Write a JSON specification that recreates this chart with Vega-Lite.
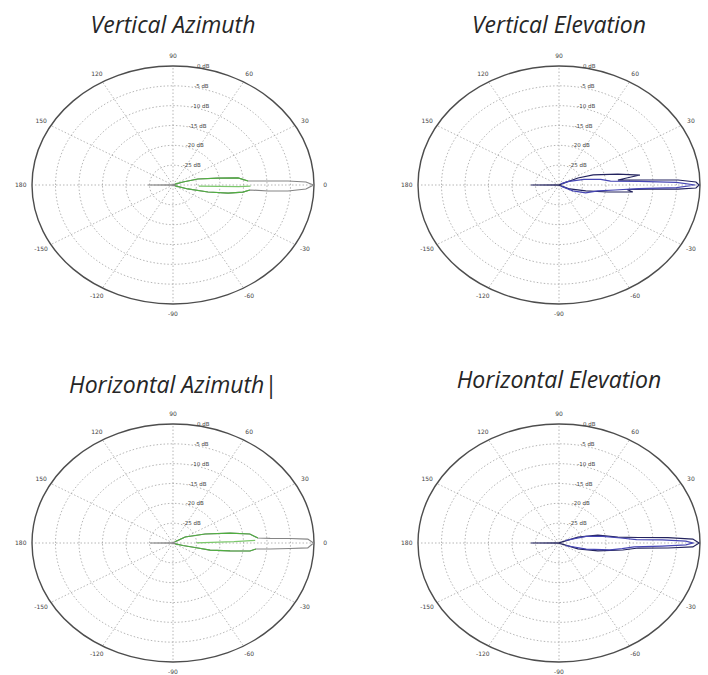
{
  "$schema": "https://vega.github.io/schema/vega-lite/v6.json",
  "background": "white",
  "padding": {"left": 14, "top": 15, "right": 0, "bottom": 0},
  "config": {
    "view": {"stroke": null},
    "title": {"font": "Open Sans", "fontSize": 23, "fontStyle": "italic", "fontWeight": "normal", "color": "#262626", "anchor": "middle", "frame": "group", "baseline": "alphabetic"}
  },
  "datasets": {
    "rings": [{"db": -25}, {"db": -20}, {"db": -15}, {"db": -10}, {"db": -5}, {"db": 0}],
    "spokes": [{"ang": 0}, {"ang": 30}, {"ang": 60}, {"ang": 90}, {"ang": 120}, {"ang": 150}, {"ang": 180}, {"ang": 210}, {"ang": 240}, {"ang": 270}, {"ang": 300}, {"ang": 330}],
    "alabels": [
      {"ang": 0, "lab": "0"}, {"ang": 30, "lab": "30"}, {"ang": 60, "lab": "60"}, {"ang": 90, "lab": "90"},
      {"ang": 120, "lab": "120"}, {"ang": 150, "lab": "150"}, {"ang": 180, "lab": "180"}, {"ang": -150, "lab": "-150"},
      {"ang": -120, "lab": "-120"}, {"ang": -90, "lab": "-90"}, {"ang": -60, "lab": "-60"}, {"ang": -30, "lab": "-30"}
    ],
    "dblabels": [
      {"db": 0, "lab": "0 dB"}, {"db": -5, "lab": "-5 dB"}, {"db": -10, "lab": "-10 dB"},
      {"db": -15, "lab": "-15 dB"}, {"db": -20, "lab": "-20 dB"}, {"db": -25, "lab": "-25 dB"}
    ],
    "pattern": [
      {"p": "VA", "s": "VA main", "ang": -180, "db": -24.7}, {"p": "VA", "s": "VA main", "ang": -178, "db": -29.5},
      {"p": "VA", "s": "VA main", "ang": -90, "db": -30}, {"p": "VA", "s": "VA main", "ang": -30, "db": -29.8},
      {"p": "VA", "s": "VA main", "ang": -17.6, "db": -26.7}, {"p": "VA", "s": "VA main", "ang": -13.3, "db": -22.35},
      {"p": "VA", "s": "VA main", "ang": -9.8, "db": -18.1}, {"p": "VA", "s": "VA main", "ang": -6.8, "db": -15},
      {"p": "VA", "s": "VA main", "ang": -4.4, "db": -13.6}, {"p": "VA", "s": "VA main", "ang": -4.28, "db": -9.7},
      {"p": "VA", "s": "VA main", "ang": -3.53, "db": -5.5}, {"p": "VA", "s": "VA main", "ang": -2.04, "db": -1.7},
      {"p": "VA", "s": "VA main", "ang": 0, "db": -0.1}, {"p": "VA", "s": "VA main", "ang": 1.53, "db": -1.7},
      {"p": "VA", "s": "VA main", "ang": 2.36, "db": -5.5}, {"p": "VA", "s": "VA main", "ang": 2.85, "db": -9.75},
      {"p": "VA", "s": "VA main", "ang": 3.6, "db": -14}, {"p": "VA", "s": "VA main", "ang": 7.3, "db": -16.05},
      {"p": "VA", "s": "VA main", "ang": 10.4, "db": -20.3}, {"p": "VA", "s": "VA main", "ang": 15.9, "db": -24.5},
      {"p": "VA", "s": "VA main", "ang": 19.6, "db": -27.75}, {"p": "VA", "s": "VA main", "ang": 30, "db": -29.8},
      {"p": "VA", "s": "VA main", "ang": 90, "db": -30}, {"p": "VA", "s": "VA main", "ang": 178, "db": -29.5},
      {"p": "VA", "s": "VA main", "ang": 180, "db": -24.7},
      {"p": "VA", "s": "VA up", "ang": 3.6, "db": -14}, {"p": "VA", "s": "VA up", "ang": 7.3, "db": -16.05},
      {"p": "VA", "s": "VA up", "ang": 10.4, "db": -20.3}, {"p": "VA", "s": "VA up", "ang": 15.9, "db": -24.5},
      {"p": "VA", "s": "VA up", "ang": 19.6, "db": -27.75}, {"p": "VA", "s": "VA up", "ang": 26, "db": -29.5},
      {"p": "VA", "s": "VA low", "ang": -26, "db": -29.5}, {"p": "VA", "s": "VA low", "ang": -17.6, "db": -26.7},
      {"p": "VA", "s": "VA low", "ang": -13.3, "db": -22.35}, {"p": "VA", "s": "VA low", "ang": -9.8, "db": -18.1},
      {"p": "VA", "s": "VA low", "ang": -6.8, "db": -15}, {"p": "VA", "s": "VA low", "ang": -4.4, "db": -13.6},
      {"p": "VA", "s": "VA in", "ang": -3, "db": -24.5}, {"p": "VA", "s": "VA in", "ang": -1.6, "db": -16},
      {"p": "VA", "s": "VA in", "ang": -0.9, "db": -13.5},

      {"p": "VE", "s": "VE main", "ang": -180, "db": -24}, {"p": "VE", "s": "VE main", "ang": -178, "db": -29.5},
      {"p": "VE", "s": "VE main", "ang": -90, "db": -30}, {"p": "VE", "s": "VE main", "ang": -30, "db": -29.8},
      {"p": "VE", "s": "VE main", "ang": -23.5, "db": -27.5}, {"p": "VE", "s": "VE main", "ang": -14.7, "db": -24.1},
      {"p": "VE", "s": "VE main", "ang": -9.6, "db": -19.4}, {"p": "VE", "s": "VE main", "ang": -6.4, "db": -14.2},
      {"p": "VE", "s": "VE main", "ang": -4.5, "db": -15.5}, {"p": "VE", "s": "VE main", "ang": -3.1, "db": -11},
      {"p": "VE", "s": "VE main", "ang": -2.3, "db": -4.65}, {"p": "VE", "s": "VE main", "ang": -1.5, "db": -0.85},
      {"p": "VE", "s": "VE main", "ang": 0, "db": -0.2}, {"p": "VE", "s": "VE main", "ang": 1.5, "db": -0.85},
      {"p": "VE", "s": "VE main", "ang": 2.85, "db": -4.65}, {"p": "VE", "s": "VE main", "ang": 3.8, "db": -11},
      {"p": "VE", "s": "VE main", "ang": 5.7, "db": -17.4}, {"p": "VE", "s": "VE main", "ang": 8.3, "db": -12.6},
      {"p": "VE", "s": "VE main", "ang": 12.4, "db": -17.2}, {"p": "VE", "s": "VE main", "ang": 19.2, "db": -22.3},
      {"p": "VE", "s": "VE main", "ang": 23.6, "db": -25.6}, {"p": "VE", "s": "VE main", "ang": 30, "db": -29.8},
      {"p": "VE", "s": "VE main", "ang": 90, "db": -30}, {"p": "VE", "s": "VE main", "ang": 178, "db": -29.5},
      {"p": "VE", "s": "VE main", "ang": 180, "db": -24},
      {"p": "VE", "s": "VE in", "ang": -35, "db": -29.5}, {"p": "VE", "s": "VE in", "ang": -26.8, "db": -26.7},
      {"p": "VE", "s": "VE in", "ang": -19.3, "db": -24}, {"p": "VE", "s": "VE in", "ang": -10.3, "db": -21.6},
      {"p": "VE", "s": "VE in", "ang": -6, "db": -18}, {"p": "VE", "s": "VE in", "ang": -3, "db": -13},
      {"p": "VE", "s": "VE in", "ang": -1.5, "db": -5}, {"p": "VE", "s": "VE in", "ang": 0, "db": -1},
      {"p": "VE", "s": "VE in", "ang": 1.5, "db": -5}, {"p": "VE", "s": "VE in", "ang": 3, "db": -13},
      {"p": "VE", "s": "VE in", "ang": 5, "db": -19}, {"p": "VE", "s": "VE in", "ang": 9, "db": -21},
      {"p": "VE", "s": "VE in", "ang": 15, "db": -24.5}, {"p": "VE", "s": "VE in", "ang": 25, "db": -28},
      {"p": "VE", "s": "VE in", "ang": 35, "db": -29.5},

      {"p": "HA", "s": "HA main", "ang": -180, "db": -25.1}, {"p": "HA", "s": "HA main", "ang": -178, "db": -29.5},
      {"p": "HA", "s": "HA main", "ang": -90, "db": -30}, {"p": "HA", "s": "HA main", "ang": -30, "db": -29.8},
      {"p": "HA", "s": "HA main", "ang": -16.5, "db": -27.8}, {"p": "HA", "s": "HA main", "ang": -13.6, "db": -25.2},
      {"p": "HA", "s": "HA main", "ang": -12.65, "db": -21.9}, {"p": "HA", "s": "HA main", "ang": -9.4, "db": -17.7},
      {"p": "HA", "s": "HA main", "ang": -7, "db": -13.5}, {"p": "HA", "s": "HA main", "ang": -4.9, "db": -12.3},
      {"p": "HA", "s": "HA main", "ang": -4.2, "db": -9.3}, {"p": "HA", "s": "HA main", "ang": -3.2, "db": -5.1},
      {"p": "HA", "s": "HA main", "ang": -2.5, "db": -1.3}, {"p": "HA", "s": "HA main", "ang": 0, "db": -0.1},
      {"p": "HA", "s": "HA main", "ang": 2, "db": -1.3}, {"p": "HA", "s": "HA main", "ang": 2.6, "db": -5.1},
      {"p": "HA", "s": "HA main", "ang": 3.2, "db": -9.3}, {"p": "HA", "s": "HA main", "ang": 4, "db": -11.9},
      {"p": "HA", "s": "HA main", "ang": 7.9, "db": -13.5}, {"p": "HA", "s": "HA main", "ang": 11.7, "db": -17.6},
      {"p": "HA", "s": "HA main", "ang": 18.4, "db": -22.8}, {"p": "HA", "s": "HA main", "ang": 30.5, "db": -27},
      {"p": "HA", "s": "HA main", "ang": 40, "db": -29.8}, {"p": "HA", "s": "HA main", "ang": 90, "db": -30},
      {"p": "HA", "s": "HA main", "ang": 178, "db": -29.5}, {"p": "HA", "s": "HA main", "ang": 180, "db": -25.1},
      {"p": "HA", "s": "HA up", "ang": 4, "db": -11.9}, {"p": "HA", "s": "HA up", "ang": 7.9, "db": -13.5},
      {"p": "HA", "s": "HA up", "ang": 11.7, "db": -17.6}, {"p": "HA", "s": "HA up", "ang": 18.4, "db": -22.8},
      {"p": "HA", "s": "HA up", "ang": 30.5, "db": -27}, {"p": "HA", "s": "HA up", "ang": 40, "db": -29.5},
      {"p": "HA", "s": "HA low", "ang": -24, "db": -29.5}, {"p": "HA", "s": "HA low", "ang": -16.5, "db": -27.8},
      {"p": "HA", "s": "HA low", "ang": -13.6, "db": -25.2}, {"p": "HA", "s": "HA low", "ang": -12.65, "db": -21.9},
      {"p": "HA", "s": "HA low", "ang": -9.4, "db": -17.7}, {"p": "HA", "s": "HA low", "ang": -7, "db": -13.5},
      {"p": "HA", "s": "HA low", "ang": -4.9, "db": -12.3},
      {"p": "HA", "s": "HA in", "ang": 0.5, "db": -25}, {"p": "HA", "s": "HA in", "ang": 1.6, "db": -17},
      {"p": "HA", "s": "HA in", "ang": 2.2, "db": -12.5},

      {"p": "HE", "s": "HE main", "ang": -180, "db": -24}, {"p": "HE", "s": "HE main", "ang": -178, "db": -29.5},
      {"p": "HE", "s": "HE main", "ang": -90, "db": -30}, {"p": "HE", "s": "HE main", "ang": -30, "db": -29.8},
      {"p": "HE", "s": "HE main", "ang": -20.3, "db": -25.7}, {"p": "HE", "s": "HE main", "ang": -13.6, "db": -21.5},
      {"p": "HE", "s": "HE main", "ang": -7.4, "db": -16.3}, {"p": "HE", "s": "HE main", "ang": -4.3, "db": -13.1},
      {"p": "HE", "s": "HE main", "ang": -3.1, "db": -6.8}, {"p": "HE", "s": "HE main", "ang": -2, "db": -1.5},
      {"p": "HE", "s": "HE main", "ang": 0, "db": -0.2}, {"p": "HE", "s": "HE main", "ang": 2, "db": -1.5},
      {"p": "HE", "s": "HE main", "ang": 3.4, "db": -6.8}, {"p": "HE", "s": "HE main", "ang": 4.7, "db": -13.1},
      {"p": "HE", "s": "HE main", "ang": 6.8, "db": -17.4}, {"p": "HE", "s": "HE main", "ang": 13.6, "db": -21.5},
      {"p": "HE", "s": "HE main", "ang": 20.3, "db": -25.7}, {"p": "HE", "s": "HE main", "ang": 30, "db": -29.8},
      {"p": "HE", "s": "HE main", "ang": 90, "db": -30}, {"p": "HE", "s": "HE main", "ang": 178, "db": -29.5},
      {"p": "HE", "s": "HE main", "ang": 180, "db": -24},
      {"p": "HE", "s": "HE in", "ang": -25, "db": -28.5}, {"p": "HE", "s": "HE in", "ang": -15, "db": -24},
      {"p": "HE", "s": "HE in", "ang": -9, "db": -19}, {"p": "HE", "s": "HE in", "ang": -6, "db": -16.5},
      {"p": "HE", "s": "HE in", "ang": -3.5, "db": -14}, {"p": "HE", "s": "HE in", "ang": -2, "db": -8},
      {"p": "HE", "s": "HE in", "ang": -1, "db": -3}, {"p": "HE", "s": "HE in", "ang": 0, "db": -1.5},
      {"p": "HE", "s": "HE in", "ang": 1, "db": -3}, {"p": "HE", "s": "HE in", "ang": 2, "db": -8},
      {"p": "HE", "s": "HE in", "ang": 3, "db": -13.5}, {"p": "HE", "s": "HE in", "ang": 5.5, "db": -16.8},
      {"p": "HE", "s": "HE in", "ang": 10, "db": -20.5}, {"p": "HE", "s": "HE in", "ang": 16, "db": -24},
      {"p": "HE", "s": "HE in", "ang": 25, "db": -28.5}
    ]
  },
  "columns": 2,
  "spacing": {"row": 120, "column": 104},
  "bounds": "flush",
  "concat": [
    {
      "title": {"text": "Vertical Azimuth", "offset": 15},
      "width": 282, "height": 238,
      "layer": [
        {"data": {"name": "rings"}, "transform": [{"filter": "datum.db < 0"}, {"calculate": "(datum.db + 30) / 30", "as": "r"}, {"calculate": "0", "as": "c"}],
         "mark": {"type": "point", "shape": "M -1 0 A 1 0.844 0 1 1 1 0 A 1 0.844 0 1 1 -1 0 Z", "filled": false, "stroke": "#a3a3a3", "strokeWidth": 0.8, "strokeDash": [1.5, 2], "opacity": 1},
         "encoding": {"x": {"field": "c", "type": "quantitative", "scale": {"domain": [-1, 1], "nice": false, "zero": false}, "axis": null},
                      "y": {"field": "c", "type": "quantitative", "scale": {"domain": [-1, 1], "nice": false, "zero": false}, "axis": null},
                      "size": {"field": "r", "type": "quantitative", "scale": {"type": "pow", "exponent": 2, "domain": [0, 1], "range": [0, 79524]}, "legend": null}}},
        {"data": {"name": "spokes"}, "transform": [{"calculate": "0", "as": "c"}, {"calculate": "cos(datum.ang * PI / 180)", "as": "ex"}, {"calculate": "sin(datum.ang * PI / 180)", "as": "ey"}],
         "mark": {"type": "rule", "stroke": "#a3a3a3", "strokeWidth": 0.8, "strokeDash": [1.5, 2]},
         "encoding": {"x": {"field": "c", "type": "quantitative"}, "y": {"field": "c", "type": "quantitative"}, "x2": {"field": "ex"}, "y2": {"field": "ey"}}},
        {"data": {"name": "rings"}, "transform": [{"filter": "datum.db == 0"}, {"calculate": "(datum.db + 30) / 30", "as": "r"}, {"calculate": "0", "as": "c"}],
         "mark": {"type": "point", "shape": "M -1 0 A 1 0.844 0 1 1 1 0 A 1 0.844 0 1 1 -1 0 Z", "filled": false, "stroke": "#4d4d4d", "strokeWidth": 1.4, "opacity": 1},
         "encoding": {"x": {"field": "c", "type": "quantitative"}, "y": {"field": "c", "type": "quantitative"},
                      "size": {"field": "r", "type": "quantitative", "scale": {"type": "pow", "exponent": 2, "domain": [0, 1], "range": [0, 79524]}, "legend": null}}},
        {"data": {"name": "pattern"}, "transform": [{"filter": "datum.p == 'VA'"}, {"calculate": "max(0, (datum.db + 30) / 30)", "as": "r"}, {"calculate": "datum.r * cos(datum.ang * PI / 180)", "as": "px"}, {"calculate": "datum.r * sin(datum.ang * PI / 180)", "as": "py"}],
         "mark": {"type": "line", "strokeWidth": 1.2},
         "encoding": {"x": {"field": "px", "type": "quantitative"}, "y": {"field": "py", "type": "quantitative"}, "order": {"field": "ang", "type": "quantitative"},
                      "color": {"field": "s", "type": "nominal", "scale": {"domain": ["VA main", "VA up", "VA low", "VA in", "VE main", "VE in", "HA main", "HA up", "HA low", "HA in", "HE main", "HE in"], "range": ["#858585", "#4fae40", "#4fae40", "#7cc86c", "#23235e", "#4646b4", "#858585", "#4fae40", "#4fae40", "#7cc86c", "#23235e", "#4646b4"]}, "legend": null}}},
        {"data": {"name": "alabels"}, "transform": [{"calculate": "1.08 * cos(datum.ang * PI / 180)", "as": "lx"}, {"calculate": "1.08 * sin(datum.ang * PI / 180)", "as": "ly"}],
         "mark": {"type": "text", "font": "DejaVu Sans", "fontSize": 6, "fill": "#444444", "align": "center", "baseline": "middle"},
         "encoding": {"x": {"field": "lx", "type": "quantitative"}, "y": {"field": "ly", "type": "quantitative"}, "text": {"field": "lab", "type": "nominal"}}},
        {"data": {"name": "dblabels"}, "transform": [{"calculate": "(datum.db + 30) / 30", "as": "r"}, {"calculate": "0.05 + 0.12 * datum.r", "as": "lx"}],
         "mark": {"type": "text", "font": "DejaVu Sans", "fontSize": 5.5, "fill": "#444444", "align": "left", "baseline": "middle"},
         "encoding": {"x": {"field": "lx", "type": "quantitative"}, "y": {"field": "r", "type": "quantitative"}, "text": {"field": "lab", "type": "nominal"}}}
      ]
    },
    {
      "title": {"text": "Vertical Elevation", "offset": 15},
      "width": 282, "height": 238,
      "layer": [
        {"data": {"name": "rings"}, "transform": [{"filter": "datum.db < 0"}, {"calculate": "(datum.db + 30) / 30", "as": "r"}, {"calculate": "0", "as": "c"}],
         "mark": {"type": "point", "shape": "M -1 0 A 1 0.844 0 1 1 1 0 A 1 0.844 0 1 1 -1 0 Z", "filled": false, "stroke": "#a3a3a3", "strokeWidth": 0.8, "strokeDash": [1.5, 2], "opacity": 1},
         "encoding": {"x": {"field": "c", "type": "quantitative", "scale": {"domain": [-1, 1], "nice": false, "zero": false}, "axis": null},
                      "y": {"field": "c", "type": "quantitative", "scale": {"domain": [-1, 1], "nice": false, "zero": false}, "axis": null},
                      "size": {"field": "r", "type": "quantitative", "scale": {"type": "pow", "exponent": 2, "domain": [0, 1], "range": [0, 79524]}, "legend": null}}},
        {"data": {"name": "spokes"}, "transform": [{"calculate": "0", "as": "c"}, {"calculate": "cos(datum.ang * PI / 180)", "as": "ex"}, {"calculate": "sin(datum.ang * PI / 180)", "as": "ey"}],
         "mark": {"type": "rule", "stroke": "#a3a3a3", "strokeWidth": 0.8, "strokeDash": [1.5, 2]},
         "encoding": {"x": {"field": "c", "type": "quantitative"}, "y": {"field": "c", "type": "quantitative"}, "x2": {"field": "ex"}, "y2": {"field": "ey"}}},
        {"data": {"name": "rings"}, "transform": [{"filter": "datum.db == 0"}, {"calculate": "(datum.db + 30) / 30", "as": "r"}, {"calculate": "0", "as": "c"}],
         "mark": {"type": "point", "shape": "M -1 0 A 1 0.844 0 1 1 1 0 A 1 0.844 0 1 1 -1 0 Z", "filled": false, "stroke": "#4d4d4d", "strokeWidth": 1.4, "opacity": 1},
         "encoding": {"x": {"field": "c", "type": "quantitative"}, "y": {"field": "c", "type": "quantitative"},
                      "size": {"field": "r", "type": "quantitative", "scale": {"type": "pow", "exponent": 2, "domain": [0, 1], "range": [0, 79524]}, "legend": null}}},
        {"data": {"name": "pattern"}, "transform": [{"filter": "datum.p == 'VE'"}, {"calculate": "max(0, (datum.db + 30) / 30)", "as": "r"}, {"calculate": "datum.r * cos(datum.ang * PI / 180)", "as": "px"}, {"calculate": "datum.r * sin(datum.ang * PI / 180)", "as": "py"}],
         "mark": {"type": "line", "strokeWidth": 1.2},
         "encoding": {"x": {"field": "px", "type": "quantitative"}, "y": {"field": "py", "type": "quantitative"}, "order": {"field": "ang", "type": "quantitative"},
                      "color": {"field": "s", "type": "nominal", "scale": {"domain": ["VA main", "VA up", "VA low", "VA in", "VE main", "VE in", "HA main", "HA up", "HA low", "HA in", "HE main", "HE in"], "range": ["#858585", "#4fae40", "#4fae40", "#7cc86c", "#23235e", "#4646b4", "#858585", "#4fae40", "#4fae40", "#7cc86c", "#23235e", "#4646b4"]}, "legend": null}}},
        {"data": {"name": "alabels"}, "transform": [{"filter": "datum.ang != 0"}, {"calculate": "1.08 * cos(datum.ang * PI / 180)", "as": "lx"}, {"calculate": "1.08 * sin(datum.ang * PI / 180)", "as": "ly"}],
         "mark": {"type": "text", "font": "DejaVu Sans", "fontSize": 6, "fill": "#444444", "align": "center", "baseline": "middle"},
         "encoding": {"x": {"field": "lx", "type": "quantitative"}, "y": {"field": "ly", "type": "quantitative"}, "text": {"field": "lab", "type": "nominal"}}},
        {"data": {"name": "dblabels"}, "transform": [{"calculate": "(datum.db + 30) / 30", "as": "r"}, {"calculate": "0.05 + 0.12 * datum.r", "as": "lx"}],
         "mark": {"type": "text", "font": "DejaVu Sans", "fontSize": 5.5, "fill": "#444444", "align": "left", "baseline": "middle"},
         "encoding": {"x": {"field": "lx", "type": "quantitative"}, "y": {"field": "r", "type": "quantitative"}, "text": {"field": "lab", "type": "nominal"}}}
      ]
    },
    {
      "title": {"text": "Horizontal Azimuth|", "offset": 13},
      "width": 282, "height": 238,
      "layer": [
        {"data": {"name": "rings"}, "transform": [{"filter": "datum.db < 0"}, {"calculate": "(datum.db + 30) / 30", "as": "r"}, {"calculate": "0", "as": "c"}],
         "mark": {"type": "point", "shape": "M -1 0 A 1 0.844 0 1 1 1 0 A 1 0.844 0 1 1 -1 0 Z", "filled": false, "stroke": "#a3a3a3", "strokeWidth": 0.8, "strokeDash": [1.5, 2], "opacity": 1},
         "encoding": {"x": {"field": "c", "type": "quantitative", "scale": {"domain": [-1, 1], "nice": false, "zero": false}, "axis": null},
                      "y": {"field": "c", "type": "quantitative", "scale": {"domain": [-1, 1], "nice": false, "zero": false}, "axis": null},
                      "size": {"field": "r", "type": "quantitative", "scale": {"type": "pow", "exponent": 2, "domain": [0, 1], "range": [0, 79524]}, "legend": null}}},
        {"data": {"name": "spokes"}, "transform": [{"calculate": "0", "as": "c"}, {"calculate": "cos(datum.ang * PI / 180)", "as": "ex"}, {"calculate": "sin(datum.ang * PI / 180)", "as": "ey"}],
         "mark": {"type": "rule", "stroke": "#a3a3a3", "strokeWidth": 0.8, "strokeDash": [1.5, 2]},
         "encoding": {"x": {"field": "c", "type": "quantitative"}, "y": {"field": "c", "type": "quantitative"}, "x2": {"field": "ex"}, "y2": {"field": "ey"}}},
        {"data": {"name": "rings"}, "transform": [{"filter": "datum.db == 0"}, {"calculate": "(datum.db + 30) / 30", "as": "r"}, {"calculate": "0", "as": "c"}],
         "mark": {"type": "point", "shape": "M -1 0 A 1 0.844 0 1 1 1 0 A 1 0.844 0 1 1 -1 0 Z", "filled": false, "stroke": "#4d4d4d", "strokeWidth": 1.4, "opacity": 1},
         "encoding": {"x": {"field": "c", "type": "quantitative"}, "y": {"field": "c", "type": "quantitative"},
                      "size": {"field": "r", "type": "quantitative", "scale": {"type": "pow", "exponent": 2, "domain": [0, 1], "range": [0, 79524]}, "legend": null}}},
        {"data": {"name": "pattern"}, "transform": [{"filter": "datum.p == 'HA'"}, {"calculate": "max(0, (datum.db + 30) / 30)", "as": "r"}, {"calculate": "datum.r * cos(datum.ang * PI / 180)", "as": "px"}, {"calculate": "datum.r * sin(datum.ang * PI / 180)", "as": "py"}],
         "mark": {"type": "line", "strokeWidth": 1.2},
         "encoding": {"x": {"field": "px", "type": "quantitative"}, "y": {"field": "py", "type": "quantitative"}, "order": {"field": "ang", "type": "quantitative"},
                      "color": {"field": "s", "type": "nominal", "scale": {"domain": ["VA main", "VA up", "VA low", "VA in", "VE main", "VE in", "HA main", "HA up", "HA low", "HA in", "HE main", "HE in"], "range": ["#858585", "#4fae40", "#4fae40", "#7cc86c", "#23235e", "#4646b4", "#858585", "#4fae40", "#4fae40", "#7cc86c", "#23235e", "#4646b4"]}, "legend": null}}},
        {"data": {"name": "alabels"}, "transform": [{"calculate": "1.08 * cos(datum.ang * PI / 180)", "as": "lx"}, {"calculate": "1.08 * sin(datum.ang * PI / 180)", "as": "ly"}],
         "mark": {"type": "text", "font": "DejaVu Sans", "fontSize": 6, "fill": "#444444", "align": "center", "baseline": "middle"},
         "encoding": {"x": {"field": "lx", "type": "quantitative"}, "y": {"field": "ly", "type": "quantitative"}, "text": {"field": "lab", "type": "nominal"}}},
        {"data": {"name": "dblabels"}, "transform": [{"calculate": "(datum.db + 30) / 30", "as": "r"}, {"calculate": "0.05 + 0.12 * datum.r", "as": "lx"}],
         "mark": {"type": "text", "font": "DejaVu Sans", "fontSize": 5.5, "fill": "#444444", "align": "left", "baseline": "middle"},
         "encoding": {"x": {"field": "lx", "type": "quantitative"}, "y": {"field": "r", "type": "quantitative"}, "text": {"field": "lab", "type": "nominal"}}}
      ]
    },
    {
      "title": {"text": "Horizontal Elevation", "offset": 18},
      "width": 282, "height": 238,
      "layer": [
        {"data": {"name": "rings"}, "transform": [{"filter": "datum.db < 0"}, {"calculate": "(datum.db + 30) / 30", "as": "r"}, {"calculate": "0", "as": "c"}],
         "mark": {"type": "point", "shape": "M -1 0 A 1 0.844 0 1 1 1 0 A 1 0.844 0 1 1 -1 0 Z", "filled": false, "stroke": "#a3a3a3", "strokeWidth": 0.8, "strokeDash": [1.5, 2], "opacity": 1},
         "encoding": {"x": {"field": "c", "type": "quantitative", "scale": {"domain": [-1, 1], "nice": false, "zero": false}, "axis": null},
                      "y": {"field": "c", "type": "quantitative", "scale": {"domain": [-1, 1], "nice": false, "zero": false}, "axis": null},
                      "size": {"field": "r", "type": "quantitative", "scale": {"type": "pow", "exponent": 2, "domain": [0, 1], "range": [0, 79524]}, "legend": null}}},
        {"data": {"name": "spokes"}, "transform": [{"calculate": "0", "as": "c"}, {"calculate": "cos(datum.ang * PI / 180)", "as": "ex"}, {"calculate": "sin(datum.ang * PI / 180)", "as": "ey"}],
         "mark": {"type": "rule", "stroke": "#a3a3a3", "strokeWidth": 0.8, "strokeDash": [1.5, 2]},
         "encoding": {"x": {"field": "c", "type": "quantitative"}, "y": {"field": "c", "type": "quantitative"}, "x2": {"field": "ex"}, "y2": {"field": "ey"}}},
        {"data": {"name": "rings"}, "transform": [{"filter": "datum.db == 0"}, {"calculate": "(datum.db + 30) / 30", "as": "r"}, {"calculate": "0", "as": "c"}],
         "mark": {"type": "point", "shape": "M -1 0 A 1 0.844 0 1 1 1 0 A 1 0.844 0 1 1 -1 0 Z", "filled": false, "stroke": "#4d4d4d", "strokeWidth": 1.4, "opacity": 1},
         "encoding": {"x": {"field": "c", "type": "quantitative"}, "y": {"field": "c", "type": "quantitative"},
                      "size": {"field": "r", "type": "quantitative", "scale": {"type": "pow", "exponent": 2, "domain": [0, 1], "range": [0, 79524]}, "legend": null}}},
        {"data": {"name": "pattern"}, "transform": [{"filter": "datum.p == 'HE'"}, {"calculate": "max(0, (datum.db + 30) / 30)", "as": "r"}, {"calculate": "datum.r * cos(datum.ang * PI / 180)", "as": "px"}, {"calculate": "datum.r * sin(datum.ang * PI / 180)", "as": "py"}],
         "mark": {"type": "line", "strokeWidth": 1.2},
         "encoding": {"x": {"field": "px", "type": "quantitative"}, "y": {"field": "py", "type": "quantitative"}, "order": {"field": "ang", "type": "quantitative"},
                      "color": {"field": "s", "type": "nominal", "scale": {"domain": ["VA main", "VA up", "VA low", "VA in", "VE main", "VE in", "HA main", "HA up", "HA low", "HA in", "HE main", "HE in"], "range": ["#858585", "#4fae40", "#4fae40", "#7cc86c", "#23235e", "#4646b4", "#858585", "#4fae40", "#4fae40", "#7cc86c", "#23235e", "#4646b4"]}, "legend": null}}},
        {"data": {"name": "alabels"}, "transform": [{"filter": "datum.ang != 0"}, {"calculate": "1.08 * cos(datum.ang * PI / 180)", "as": "lx"}, {"calculate": "1.08 * sin(datum.ang * PI / 180)", "as": "ly"}],
         "mark": {"type": "text", "font": "DejaVu Sans", "fontSize": 6, "fill": "#444444", "align": "center", "baseline": "middle"},
         "encoding": {"x": {"field": "lx", "type": "quantitative"}, "y": {"field": "ly", "type": "quantitative"}, "text": {"field": "lab", "type": "nominal"}}},
        {"data": {"name": "dblabels"}, "transform": [{"calculate": "(datum.db + 30) / 30", "as": "r"}, {"calculate": "0.05 + 0.12 * datum.r", "as": "lx"}],
         "mark": {"type": "text", "font": "DejaVu Sans", "fontSize": 5.5, "fill": "#444444", "align": "left", "baseline": "middle"},
         "encoding": {"x": {"field": "lx", "type": "quantitative"}, "y": {"field": "r", "type": "quantitative"}, "text": {"field": "lab", "type": "nominal"}}}
      ]
    }
  ]
}
